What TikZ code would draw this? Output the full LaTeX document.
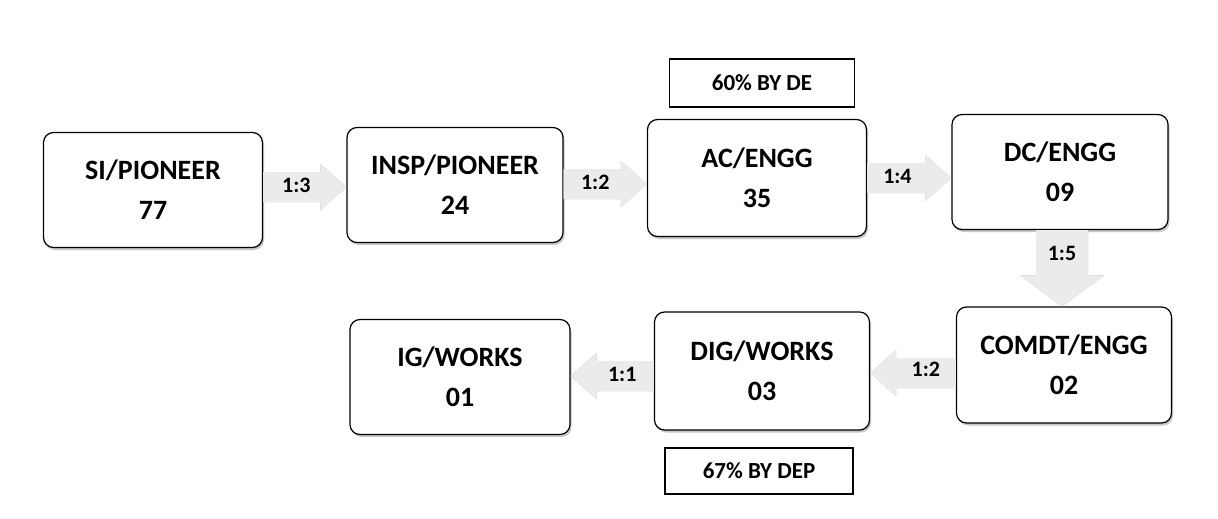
\documentclass[tikz,border=0pt]{standalone}
\usepackage{fontspec}
\setmainfont{Carlito}
\usetikzlibrary{calc,shadows}
\tikzset{
  box/.style={draw=black, line width=1.2pt, rounded corners=10pt, fill=white,
    minimum width=217pt, minimum height=115pt, align=center,
    font=\fontsize{28}{32}\selectfont\bfseries,
    drop shadow={shadow xshift=1.5pt, shadow yshift=-2.5pt, fill=gray!55, opacity=0.8}},
  notebox/.style={draw=black, line width=1.3pt, fill=white, align=center,
    font=\fontsize{23}{27}\selectfont\bfseries},
  lab/.style={font=\fontsize{22}{26}\selectfont\bfseries, inner sep=0pt},
  arrfill/.style={fill=gray!16},
  arrshade/.style={fill=gray!60}
}
% #3 = signed head length (26pt for rightward, -26pt for leftward)
\newcommand\harr[3]{%
  \foreach \st/\dy in {arrshade/-1.8pt, arrfill/0pt}{
  \fill[\st, yshift=\dy] let \p1=#1, \p2=#2 in
    (\x1,\y1+15pt) -- ({\x2-(#3)},\y1+15pt) -- ({\x2-(#3)},\y1+23pt) -- (\x2,\y1)
    -- ({\x2-(#3)},\y1-23pt) -- ({\x2-(#3)},\y1-15pt) -- (\x1,\y1-15pt) -- cycle;}}
\newcommand\varr[2]{%
  \foreach \st/\dy in {arrshade/-1.8pt, arrfill/0pt}{
  \fill[\st, yshift=\dy] let \p1=#1, \p2=#2 in
    (\x1-26pt,\y1) -- (\x1-26pt,\y2+31pt) -- (\x1-42pt,\y2+31pt) -- (\x1,\y2)
    -- (\x1+42pt,\y2+31pt) -- (\x1+26pt,\y2+31pt) -- (\x1+26pt,\y1) -- cycle;}}
\begin{document}
\begin{tikzpicture}[x=1pt,y=-1pt]
\useasboundingbox[fill=white] (0,0) rectangle (1218,519);
% boxes
\node[box, minimum width=219pt] (si) at (153,190) {SI/PIONEER\\[8pt]77};
\node[box, minimum width=216pt] (insp) at (455,185) {INSP/PIONEER\\[8pt]24};
\node[box, minimum width=219pt, minimum height=117pt] (ac) at (757,178) {AC/ENGG\\[8pt]35};
\node[box, minimum width=216pt] (dc) at (1060,172) {DC/ENGG\\[8pt]09};
\node[box, minimum width=215pt, minimum height=116pt] (comdt) at (1064,365) {COMDT/ENGG\\[8pt]02};
\node[box, minimum width=215pt, minimum height=118pt] (dig) at (762,371) {DIG/WORKS\\[8pt]03};
\node[box, minimum width=220pt] (ig) at (460,377) {IG/WORKS\\[8pt]01};
\node[notebox, minimum width=185pt, minimum height=48pt] (de) at (762,83) {60\% BY DE};
\node[notebox, minimum width=188pt, minimum height=46pt] (dep) at (759,471) {67\% BY DEP};
% block arrows
\coordinate (a1s) at ([yshift=3pt]si.east);
\coordinate (a1e) at (a1s -| insp.west);
\harr{(a1s)}{(a1e)}{26pt}
\coordinate (a2s) at ([yshift=1pt]insp.east);
\coordinate (a2e) at (a2s -| ac.west);
\harr{(a2s)}{(a2e)}{26pt}
\coordinate (a3s) at (ac.east);
\coordinate (a3e) at (a3s -| dc.west);
\harr{(a3s)}{(a3e)}{26pt}
\coordinate (a4s) at ([xshift=2pt]dc.south);
\coordinate (a4e) at (a4s |- comdt.north);
\varr{(a4s)}{(a4e)}
\coordinate (a5s) at ([yshift=-8pt]comdt.west);
\coordinate (a5e) at (a5s -| dig.east);
\harr{(a5s)}{(a5e)}{-26pt}
\coordinate (a6s) at ([yshift=-5pt]dig.west);
\coordinate (a6e) at (a6s -| ig.east);
\harr{(a6s)}{(a6e)}{-26pt}
% labels
\node[lab] (l1) at ([yshift=2pt]$(a1s)!0.4!(a1e)$) {1:3};
\node[lab] (l2) at ([yshift=2pt]$(a2s)!0.38!(a2e)$) {1:2};
\node[lab] (l3) at ([yshift=2pt]$(a3s)!0.36!(a3e)$) {1:4};
\node[lab] (l4) at ($(a4s)!0.3!(a4e)$) {1:5};
\node[lab] (l5) at ([yshift=4pt]$(a5s)!0.35!(a5e)$) {1:2};
\node[lab] (l6) at ([yshift=2pt]$(a6s)!0.38!(a6e)$) {1:1};
\end{tikzpicture}
\end{document}
